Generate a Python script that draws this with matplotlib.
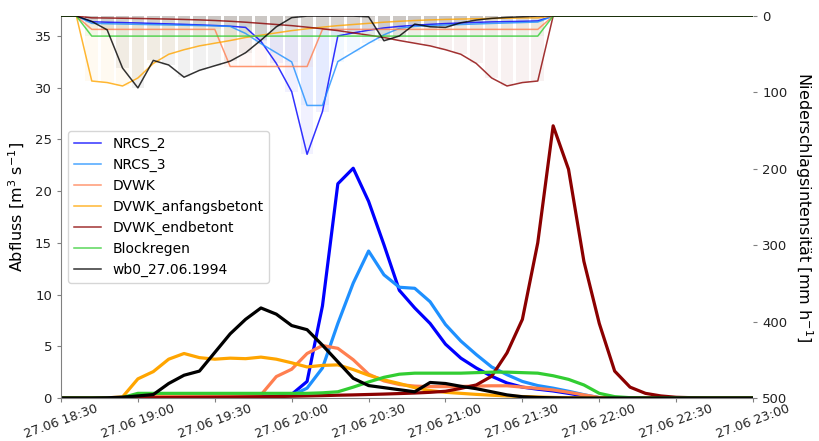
import matplotlib.dates as mdates
import matplotlib.pyplot as plt
import numpy as np
import pandas as pd

# 6-minute steps, 27.06.1994 18:30 - 23:00
times = pd.date_range("1994-06-27 18:30", periods=46, freq="6min")

names = ["NRCS_2", "NRCS_3", "DVWK", "DVWK_anfangsbetont", "DVWK_endbetont", "Blockregen", "wb0_27.06.1994"]
colors = ["blue", "dodgerblue", "coral", "orange", "darkred", "limegreen", "black"]

# Abfluss [m3/s]
q_nrcs2 = [0, 0, 0, 0, 0, 0, 0, 0, 0, 0.02, 0.03, 0.05, 0.07, 0.1, 0.15, 0.35, 1.6, 8.9, 20.7, 22.2,
           19.0, 14.8, 10.4, 8.7, 7.2, 5.2, 3.85, 2.9, 2.1, 1.45, 1.05, 0.85, 0.68, 0.45, 0.2, 0.03,
           0, 0, 0, 0, 0, 0, 0, 0, 0, 0]
q_nrcs3 = [0, 0, 0, 0, 0, 0, 0, 0, 0, 0.01, 0.02, 0.03, 0.04, 0.05, 0.1, 0.25, 0.95, 2.9, 7.2, 11.1,
           14.2, 11.9, 10.7, 10.6, 9.3, 7.1, 5.5, 4.2, 3.0, 2.25, 1.6, 1.2, 0.95, 0.65, 0.32, 0.03,
           0, 0, 0, 0, 0, 0, 0, 0, 0, 0]
q_dvwk = [0, 0, 0, 0, 0.05, 0.15, 0.2, 0.2, 0.2, 0.2, 0.2, 0.2, 0.22, 0.3, 2.07, 2.78, 4.3, 5.07, 4.8, 3.7,
          2.3, 1.65, 1.3, 1.15, 1.1, 1.1, 1.12, 1.15, 1.18, 1.18, 1.05, 0.93, 0.78, 0.55, 0.3, 0.05,
          0, 0, 0, 0, 0, 0, 0, 0, 0, 0]
q_anfang = [0, 0, 0, 0.02, 0.1, 1.85, 2.55, 3.75, 4.3, 3.9, 3.75, 3.85, 3.8, 3.95, 3.75, 3.4, 3.0, 3.15, 3.2, 2.75,
            2.2, 1.75, 1.4, 1.0, 0.72, 0.55, 0.45, 0.35, 0.27, 0.2, 0.14, 0.1, 0.06, 0.03, 0.02, 0,
            0, 0, 0, 0, 0, 0, 0, 0, 0, 0]
q_end = [0, 0, 0, 0, 0, 0.02, 0.03, 0.04, 0.05, 0.06, 0.07, 0.08, 0.1, 0.12, 0.14, 0.17, 0.2, 0.23, 0.27, 0.3,
         0.34, 0.38, 0.43, 0.48, 0.55, 0.65, 0.93, 1.26, 2.1, 4.36, 7.6, 15.0, 26.3, 22.1, 13.2, 7.2,
         2.6, 1.05, 0.45, 0.2, 0.07, 0.03, 0, 0, 0, 0]
q_block = [0, 0, 0, 0, 0.05, 0.45, 0.45, 0.45, 0.45, 0.45, 0.45, 0.45, 0.45, 0.45, 0.45, 0.45, 0.45, 0.5, 0.6, 1.05,
           1.55, 2.0, 2.3, 2.4, 2.4, 2.4, 2.4, 2.45, 2.5, 2.5, 2.45, 2.4, 2.15, 1.8, 1.26, 0.45,
           0.13, 0.03, 0, 0, 0, 0, 0, 0, 0, 0]
q_wb0 = [0, 0, 0, 0.02, 0.08, 0.2, 0.33, 1.4, 2.2, 2.6, 4.4, 6.2, 7.6, 8.7, 8.1, 7.0, 6.6, 5.1, 3.5, 1.9,
         1.2, 1.0, 0.8, 0.6, 1.5, 1.4, 1.13, 0.9, 0.6, 0.3, 0.12, 0.05, 0.02, 0, 0, 0,
         0, 0, 0, 0, 0, 0, 0, 0, 0, 0]

# Niederschlagsintensitaet [mm/h]
p_nrcs2 = [0, 0, 7.4, 8, 8.5, 9, 9.6, 10.2, 10.8, 11.5, 12.3, 13.2, 14.8, 33, 62, 99, 181, 125, 26, 22,
           18.5, 15.5, 13.5, 12, 10.8, 9.8, 9, 8.2, 7.6, 7.2, 6.8, 6.3, 0, 0, 0, 0,
           0, 0, 0, 0, 0, 0, 0, 0, 0, 0]
p_nrcs3 = [0, 0, 9.5, 10, 10.4, 10.8, 11.2, 11.6, 12, 12.4, 12.8, 13.5, 22.7, 36, 48, 60, 117, 117, 59.5, 47.5,
           35.5, 24.5, 16, 13.5, 12.5, 11.7, 11, 10.3, 9.6, 9, 8.4, 7.8, 0, 0, 0, 0,
           0, 0, 0, 0, 0, 0, 0, 0, 0, 0]
p_dvwk = [0, 0, 17.4, 17.4, 17.4, 17.4, 17.4, 17.4, 17.4, 17.4, 17.4, 66, 66, 66, 66, 66, 66, 17.4, 17.4, 17.4,
          17.4, 17.4, 17.4, 17.4, 17.4, 17.4, 17.4, 17.4, 17.4, 17.4, 17.4, 17.4, 0, 0, 0, 0,
          0, 0, 0, 0, 0, 0, 0, 0, 0, 0]
p_anfang = [0, 0, 85, 87, 91.5, 81, 62, 50, 44, 39, 35.5, 32, 28, 25, 22, 19, 16.6, 14.5, 12.5, 11,
            9.5, 8, 6.8, 5.8, 5, 4.4, 3.9, 3.5, 3.1, 2.8, 2.5, 2.3, 0, 0, 0, 0,
            0, 0, 0, 0, 0, 0, 0, 0, 0, 0]
p_end = [0, 0, 2.3, 2.5, 2.8, 3.1, 3.5, 3.9, 4.4, 5, 5.8, 6.8, 8, 9.5, 11, 12.5, 14.5, 16.6, 19, 22,
         25, 28, 32, 35.5, 39, 44, 50, 62, 81, 91.5, 87, 85, 0, 0, 0, 0,
         0, 0, 0, 0, 0, 0, 0, 0, 0, 0]
p_block = [0, 0, 26.2, 26.2, 26.2, 26.2, 26.2, 26.2, 26.2, 26.2, 26.2, 26.2, 26.2, 26.2, 26.2, 26.2, 26.2, 26.2, 26.2, 26.2,
           26.2, 26.2, 26.2, 26.2, 26.2, 26.2, 26.2, 26.2, 26.2, 26.2, 26.2, 26.2, 0, 0, 0, 0,
           0, 0, 0, 0, 0, 0, 0, 0, 0, 0]
p_wb0 = [0, 0, 7, 18, 68, 94, 58, 64, 80, 71, 65, 59, 48, 31.6, 14, 2, 0, 0, 0, 0,
         0.9, 32.3, 26, 10.5, 14, 14.8, 8.7, 5.2, 3, 1.7, 0.9, 0, 0, 0, 0, 0,
         0, 0, 0, 0, 0, 0, 0, 0, 0, 0]

discharge = [q_nrcs2, q_nrcs3, q_dvwk, q_anfang, q_end, q_block, q_wb0]
precip = [p_nrcs2, p_nrcs3, p_dvwk, p_anfang, p_end, p_block, p_wb0]

plt.rcParams["font.family"] = "DejaVu Sans"
fig = plt.figure(figsize=(8.19, 4.41), dpi=100)
ax = fig.add_axes([0.0745, 0.0975, 0.845, 0.866])
ax2 = ax.twinx()

for q, c in zip(discharge, colors):
    ax.plot(times, q, color=c, lw=2.3)

bw = 5 / 1440
for p, c, n in zip(precip, colors, names):
    ax2.bar(times, p, width=bw, color=c, alpha=0.055, lw=0)
    ax2.plot(times, p, color=c, lw=1.1, alpha=0.8, label=n)

ax.set_xlim(times[0], times[-1])
ax.set_ylim(0, 36.9)
ax.set_yticks(np.arange(0, 36, 5))
ax2.set_ylim(500, 0)
ax2.set_yticks(np.arange(0, 501, 100))

ax.xaxis.set_major_locator(mdates.MinuteLocator(byminute=[0, 30]))
ax.xaxis.set_major_formatter(mdates.DateFormatter("%d.%m %H:%M"))

for a in (ax, ax2):
    for s in a.spines.values():
        s.set_visible(False)
ax.spines["left"].set_visible(True)
ax.spines["bottom"].set_visible(True)
ax.spines["left"].set_color("grey")
ax.spines["bottom"].set_color("grey")

ax.tick_params(length=3, color="grey", labelsize=9.5, labelcolor="#222222")
ax.tick_params(axis="x", pad=0, labelsize=9.2)
ax2.tick_params(length=3, color="grey", labelsize=9.5, labelcolor="#222222")
for lab in ax.get_xticklabels():
    lab.set_rotation(20)
    lab.set_ha("center")

ax.set_ylabel("Abfluss [m$^{3}$ s$^{-1}$]", fontsize=11.5, labelpad=6)
ax2.set_ylabel("Niederschlagsintensität [mm h$^{-1}$]", fontsize=11.5, rotation=270, labelpad=20)

ax2.legend(loc="center left", fontsize=10, borderaxespad=0.5)

plt.savefig("out.png", dpi=100)
